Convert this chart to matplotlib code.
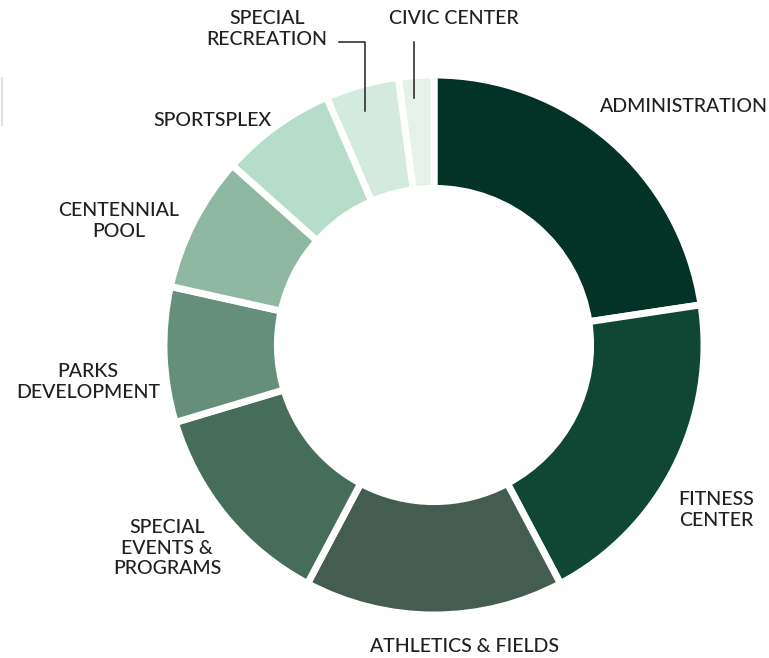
import matplotlib.pyplot as plt
from matplotlib.lines import Line2D

# budget share by division (percent)
divisions = ["ADMINISTRATION", "FITNESS\nCENTER", "ATHLETICS & FIELDS",
             "SPECIAL\nEVENTS &\nPROGRAMS", "PARKS\nDEVELOPMENT", "CENTENNIAL\nPOOL",
             "SPORTSPLEX", "SPECIAL\nRECREATION", "CIVIC CENTER"]
shares = [22.6, 19.6, 15.5, 12.6, 8.1, 8.1, 6.9, 4.4, 2.1]
colors = ["#033327", "#0f4634", "#435d50", "#456d59", "#668f7b",
          "#8eb8a2", "#b5ddca", "#d3ebdf", "#e4f2ea"]

W, H = 769, 658
fig = plt.figure(figsize=(W / 100, H / 100), dpi=100)
ax = fig.add_axes([0, 0, 1, 1])

cx, cy, R = 434, H - 345, 270
ax.pie(shares, colors=colors, startangle=90, counterclock=False,
       center=(cx, cy), radius=R, frame=True,
       wedgeprops=dict(width=R * 0.42, edgecolor="white", linewidth=5))
ax.set_xlim(0, W)
ax.set_ylim(0, H)
ax.set_aspect("equal")
ax.axis("off")

txt = dict(fontsize=14, color="#231f20", family="Lato", fontweight="medium",
           ha="center", va="center", linespacing=1.25)

# label positions in pixels (x, y from top)
label_pos = [(684, 107), (716, 510), (465, 647), (167, 548), (88, 382),
             (119, 221), (212, 120), (267, 29), (454, 18)]
for lab, (x, y) in zip(divisions, label_pos):
    ax.text(x, H - y, lab, **txt)

# leader lines for the two thin slices
ax.plot([339, 365, 365], [H - 42, H - 42, H - 111], color="#231f20", lw=1.1)
ax.plot([414, 414], [H - 42, H - 98], color="#231f20", lw=1.1)

# faint edge mark on the left
fig.add_artist(Line2D([1.5 / W, 1.5 / W], [1 - 78 / H, 1 - 125 / H],
                      color="#e2e2e2", lw=1.5))

fig.savefig("out.png", dpi=100, facecolor="white")
